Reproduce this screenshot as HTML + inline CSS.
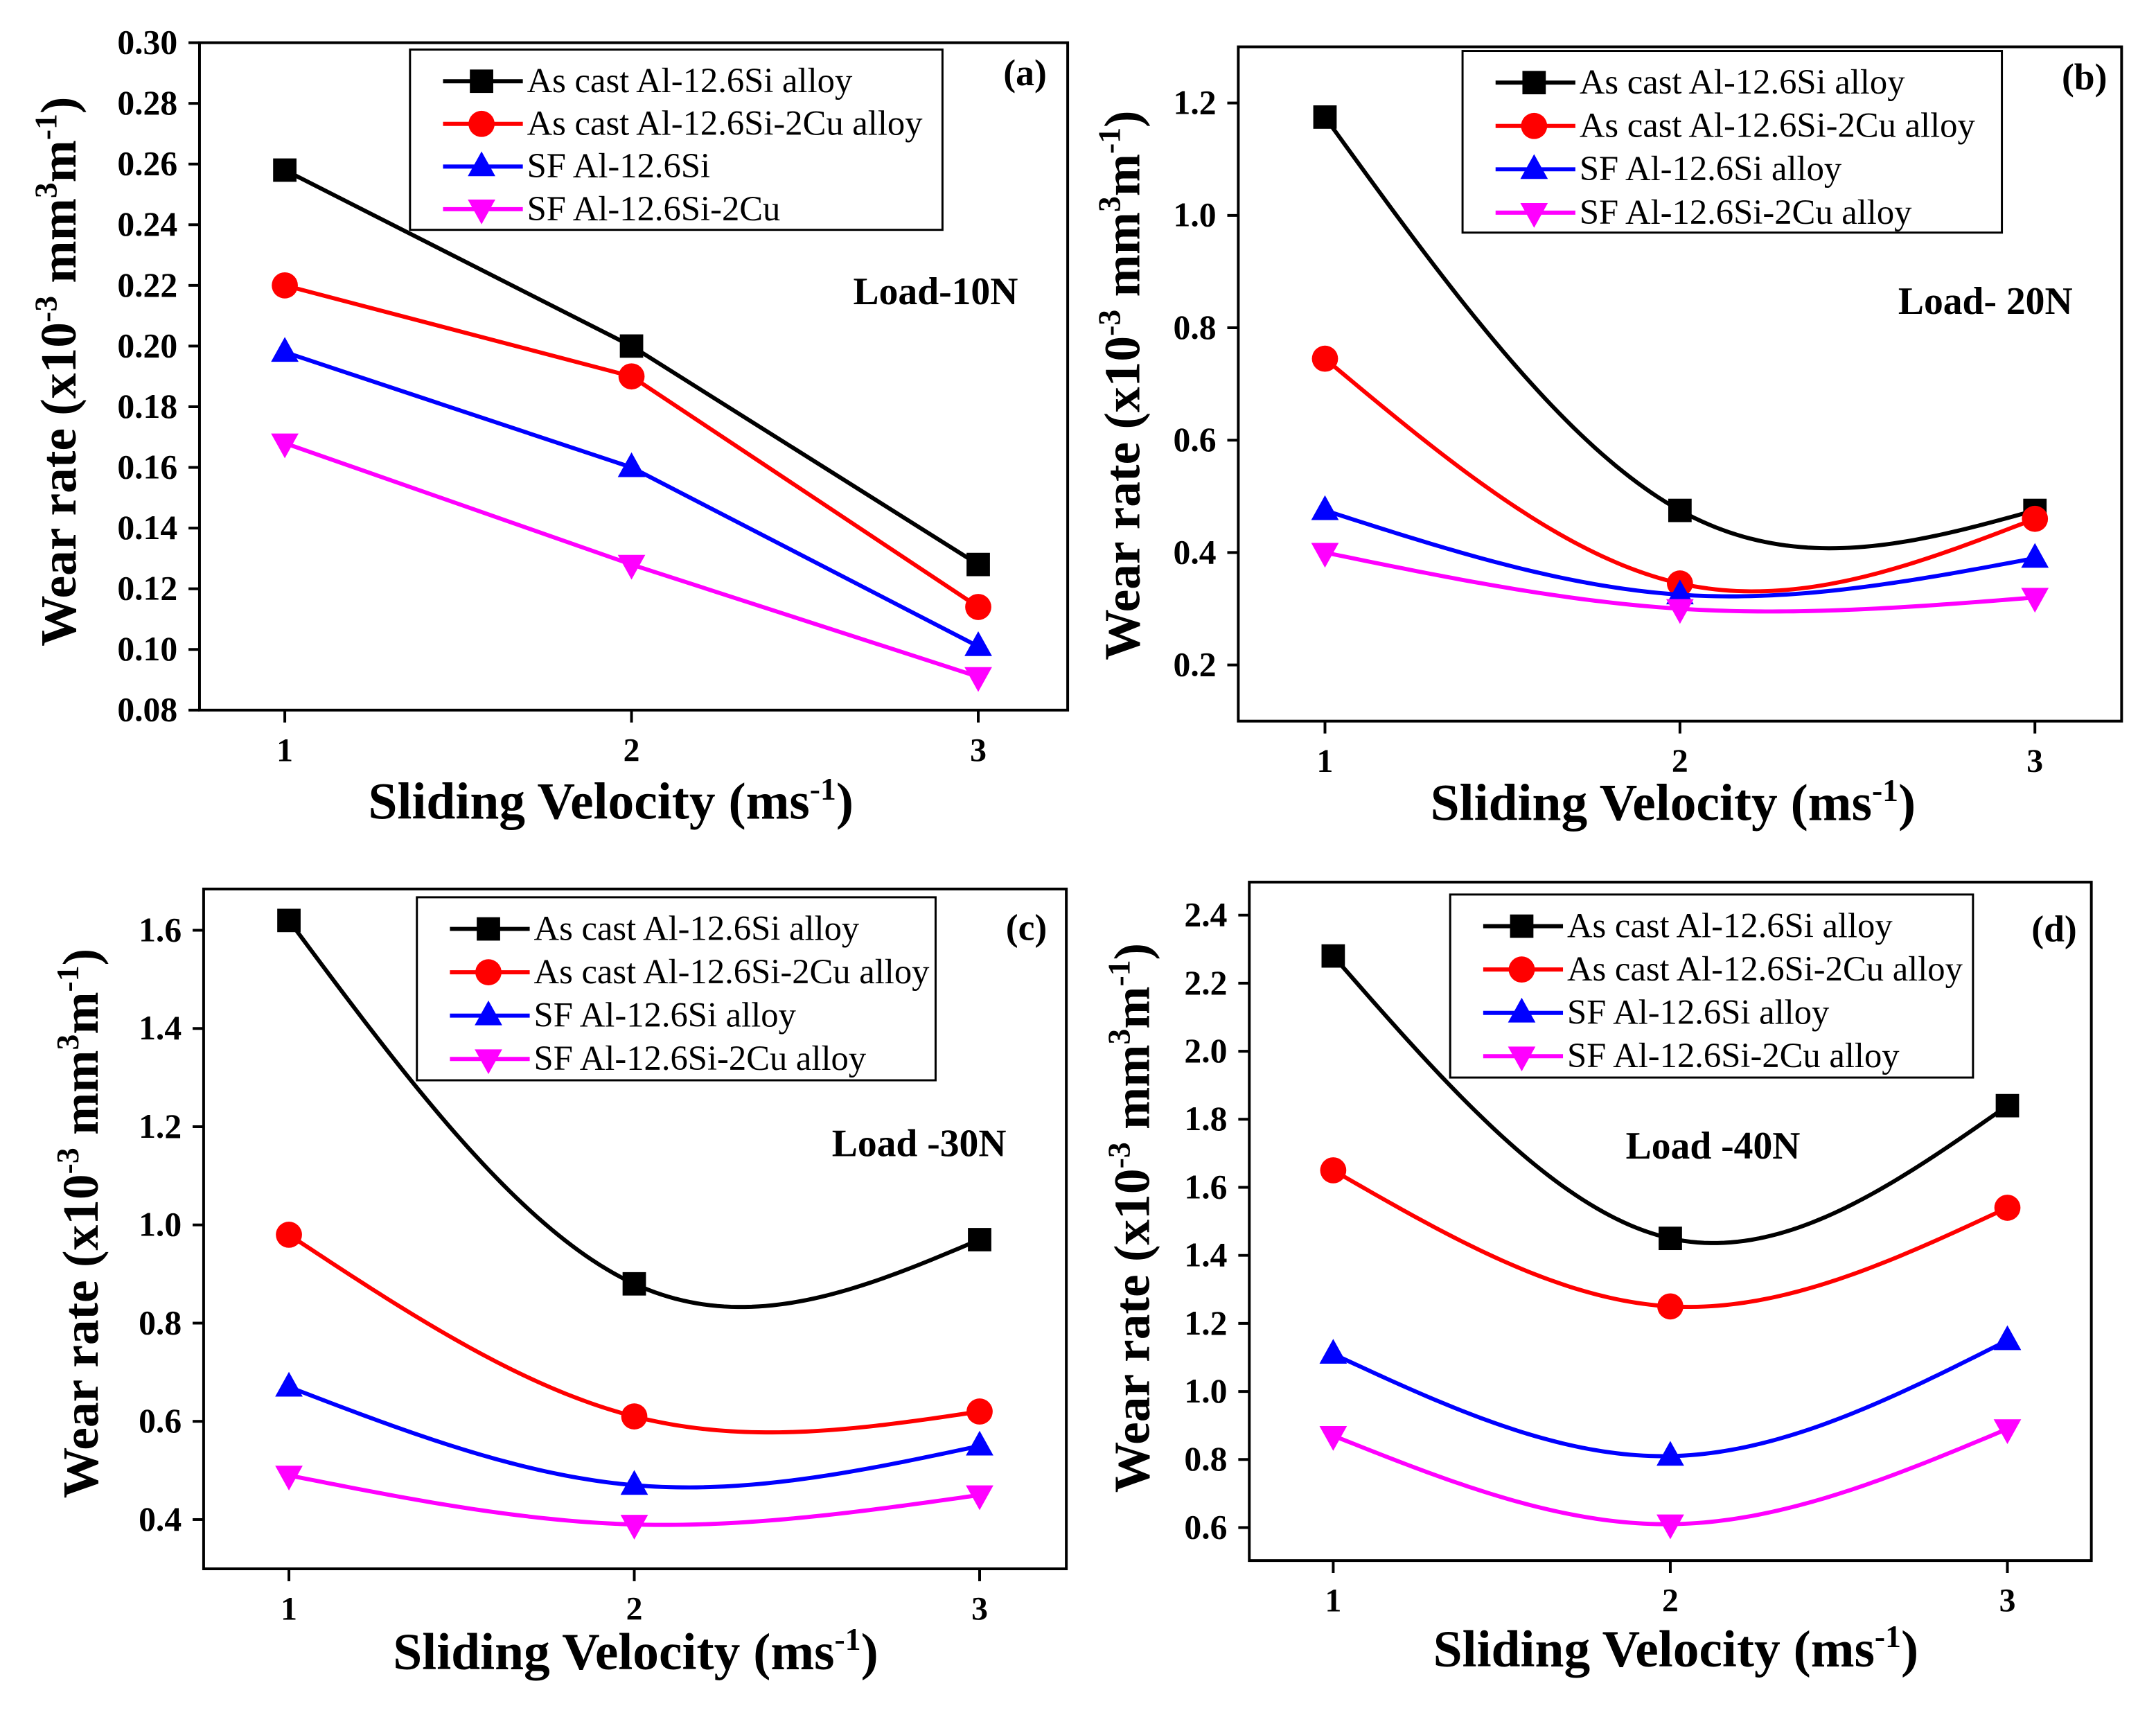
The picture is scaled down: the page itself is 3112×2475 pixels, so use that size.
<!DOCTYPE html>
<html><head><meta charset="utf-8"><style>
html,body{margin:0;padding:0;background:#fff;}
svg{display:block;}
text{font-family:"Liberation Serif",serif;}
</style></head><body>
<svg id="fig" width="3112" height="2475" viewBox="0 0 1567 1246.2" xmlns="http://www.w3.org/2000/svg">
<rect width="1567" height="1246.2" fill="#fff"/>
</svg>
<script>
const categories = [1, 2, 3];
const aBlack = [0.258, 0.200, 0.128];
const aRed = [0.220, 0.190, 0.114];
const aBlue = [0.198, 0.160, 0.101];
const aMagenta = [0.168, 0.128, 0.091];
const bBlack = [1.175, 0.475, 0.475];
const bRed = [0.745, 0.345, 0.46];
const bBlue = [0.475, 0.325, 0.39];
const bMagenta = [0.40, 0.30, 0.32];
const cBlack = [1.62, 0.88, 0.97];
const cRed = [0.98, 0.61, 0.62];
const cBlue = [0.67, 0.47, 0.55];
const cMagenta = [0.49, 0.39, 0.45];
const dBlack = [2.28, 1.45, 1.84];
const dRed = [1.65, 1.25, 1.54];
const dBlue = [1.11, 0.81, 1.15];
const dMagenta = [0.87, 0.61, 0.89];
const aTicks = ["0.08","0.10","0.12","0.14","0.16","0.18","0.20","0.22","0.24","0.26","0.28","0.30"];
const bTicks = ["0.2","0.4","0.6","0.8","1.0","1.2"];
const cTicks = ["0.4","0.6","0.8","1.0","1.2","1.4","1.6"];
const dTicks = ["0.6","0.8","1.0","1.2","1.4","1.6","1.8","2.0","2.2","2.4"];
const aLegend = ["As cast Al-12.6Si alloy","As cast Al-12.6Si-2Cu alloy","SF Al-12.6Si","SF Al-12.6Si-2Cu"];
const bLegend = ["As cast Al-12.6Si alloy","As cast Al-12.6Si-2Cu alloy","SF  Al-12.6Si alloy","SF  Al-12.6Si-2Cu  alloy"];
const cLegend = ["As cast Al-12.6Si alloy","As cast Al-12.6Si-2Cu alloy","SF Al-12.6Si alloy","SF  Al-12.6Si-2Cu  alloy"];
const dLegend = ["As cast  Al-12.6Si alloy","As cast  Al-12.6Si-2Cu alloy","SF  Al-12.6Si alloy","SF  Al-12.6Si-2Cu alloy"];

const NS="http://www.w3.org/2000/svg";
const svg=document.getElementById('fig');
const colors=["#000000","#ff0000","#0000ff","#ff00ff"];
const markers=["square","circle","up","down"];
function el(tag,attrs,parent){const e=document.createElementNS(NS,tag);for(const k in attrs)e.setAttribute(k,attrs[k]);(parent||svg).appendChild(e);return e;}

function spline(xs,ys){
  const M1=6*((ys[2]-ys[1])-(ys[1]-ys[0]))/4;
  const M=[0,M1,0];
  return function(x){
    let i=x<xs[1]?0:1;const h=xs[i+1]-xs[i];const t=(x-xs[i])/h;const u=1-t;
    return ys[i]*u+ys[i+1]*t+(h*h/6)*(M[i]*(u*u*u-u)+M[i+1]*(t*t*t-t));
  };
}
function marker(g,type,x,y,c){
  let m;
  if(type==="square") m=el('rect',{x:x-8.5,y:y-8.5,width:17,height:17,fill:c},g);
  else if(type==="circle") m=el('circle',{cx:x,cy:y,r:9.5,fill:c},g);
  else if(type==="up") m=el('polygon',{points:`${x},${y-11} ${x-10},${y+7} ${x+10},${y+7}`,fill:c},g);
  else m=el('polygon',{points:`${x},${y+11} ${x-10},${y-7} ${x+10},${y-7}`,fill:c},g);
  return m;
}
function panel(p){
  const g=el('g',{});
  
  
  const X=v=>p.x1+(v-1)*(p.x3-p.x1)/2;
  const Y=v=>p.bottom-(v-p.ymin)/(p.ymax-p.ymin)*(p.bottom-p.top);
  const box=el('rect',{x:p.left,y:p.top,width:p.right-p.left,height:p.bottom-p.top,fill:'none',stroke:'#000','stroke-width':2},g);
  
  
  p.ticks.forEach(t=>{
    const y=Y(parseFloat(t));
    el('line',{x1:p.left-8,x2:p.left,y1:y,y2:y,stroke:'#000','stroke-width':2},g);
    const tx=el('text',{x:p.left-16,y:y+8,'text-anchor':'end','font-size':25,'font-weight':'bold'},g);
    tx.textContent=t;
    
    
  });
  categories.forEach(c=>{
    const x=X(c);
    el('line',{x1:x,x2:x,y1:p.bottom,y2:p.bottom+9,stroke:'#000','stroke-width':2},g);
    const tx=el('text',{x:x,y:p.bottom+37,'text-anchor':'middle','font-size':24,'font-weight':'bold'},g);
    tx.textContent=c;
    
    
  });
  p.series.forEach((s,i)=>{
    const sg=el('g',{},g);
    
    
    let d='';
    if(p.smooth){
      const f=spline(categories,s);
      for(let k=0;k<=100;k++){const xv=1+2*k/100;d+=(k?'L':'M')+X(xv).toFixed(2)+','+Y(f(xv)).toFixed(2);}
    } else s.forEach((v,j)=>{d+=(j?'L':'M')+X(categories[j])+','+Y(v);});
    const path=el('path',{d:d,fill:'none',stroke:colors[i],'stroke-width':3},sg);
    
    
    s.forEach((v,j)=>{
      const m=marker(sg,markers[i],X(categories[j]),Y(v),colors[i]);
      
      
    });
  });
  const L=p.legend;
  const lg=el('g',{},g);
  
  
  el('rect',{x:L.x,y:L.y,width:L.w,height:L.h,fill:'#fff',stroke:'#000','stroke-width':1.5},lg);
  p.labels.forEach((lab,i)=>{
    const y=L.y+23+i*L.dy;
    const eg=el('g',{},lg);
    
    
    el('line',{x1:L.x+24,x2:L.x+82,y1:y,y2:y,stroke:colors[i],'stroke-width':3},eg);
    marker(eg,markers[i],L.x+52,y,colors[i]);
    const t=el('text',{x:L.x+85,y:y+8,'font-size':25.5},eg);
    t.textContent=lab;
  });
  const pl=el('text',{x:p.tag[0],y:p.tag[1],'text-anchor':'middle','font-size':27,'font-weight':'bold'},g);
  pl.textContent=p.tag[2];
  
  
  const ld=el('text',{x:p.load[0],y:p.load[1],'text-anchor':'middle','font-size':28,'font-weight':'bold'},g);
  ld.textContent=p.load[2];
  
  
  const xt=el('text',{x:p.xl[0],y:p.xl[1],'text-anchor':'middle','font-size':38,'font-weight':'bold'},g);
  xt.innerHTML='Sliding Velocity (ms<tspan dy="-14" font-size="23">-1</tspan><tspan dy="14">)</tspan>';
  
  
  const yt=el('text',{x:0,y:0,'text-anchor':'middle','font-size':37,'font-weight':'bold',transform:`translate(${p.yl[0]},${p.yl[1]}) rotate(-90)`},g);
  yt.innerHTML='Wear rate (x10<tspan dy="-14" font-size="23">-3</tspan><tspan dy="14"> mm</tspan><tspan dy="-14" font-size="23">3</tspan><tspan dy="14">m</tspan><tspan dy="-14" font-size="23">-1</tspan><tspan dy="14">)</tspan>';
  
  
}
panel({id:'a',left:145,top:31,right:776,bottom:516,x1:207,x3:711,ymin:0.08,ymax:0.30,ticks:aTicks,
  series:[aBlack,aRed,aBlue,aMagenta],smooth:false,labels:aLegend,
  legend:{x:298,y:36,w:387,h:131,dy:31},tag:[745,62,'(a)'],load:[680,221,'Load-10N'],xl:[444,595],yl:[55,270]});
panel({id:'b',left:900,top:34,right:1542,bottom:524,x1:963,x3:1479,ymin:0.1,ymax:1.3,ticks:bTicks,
  series:[bBlack,bRed,bBlue,bMagenta],smooth:true,labels:bLegend,
  legend:{x:1063,y:37,w:392,h:132,dy:31.5},tag:[1515,65,'(b)'],load:[1443,228,'Load- 20N'],xl:[1216,596],yl:[828,280]});
panel({id:'c',left:148,top:646,right:775,bottom:1140,x1:210,x3:712,ymin:0.2997,ymax:1.684,ticks:cTicks,
  series:[cBlack,cRed,cBlue,cMagenta],smooth:true,labels:cLegend,
  legend:{x:303,y:652,w:377,h:133,dy:31.5},tag:[746,683,'(c)'],load:[668,840,'Load -30N'],xl:[462,1213],yl:[71,889]});
panel({id:'d',left:908,top:641,right:1520,bottom:1134,x1:969,x3:1459,ymin:0.503,ymax:2.497,ticks:dTicks,
  series:[dBlack,dRed,dBlue,dMagenta],smooth:true,labels:dLegend,
  legend:{x:1054,y:650,w:380,h:133,dy:31.5},tag:[1493,684,'(d)'],load:[1245,842,'Load -40N'],xl:[1218,1211],yl:[835,885]});
</script>
</body></html>
